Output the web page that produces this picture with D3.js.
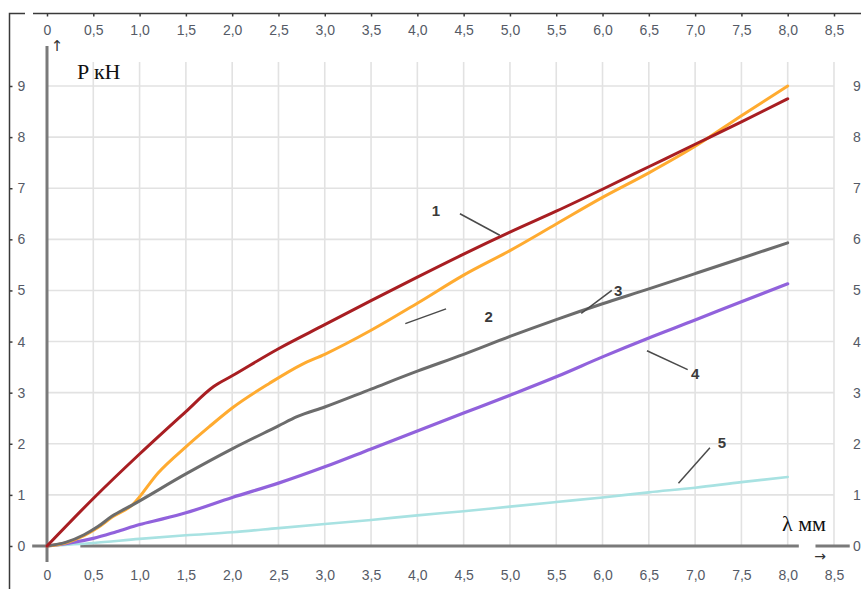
<!DOCTYPE html>
<html>
<head>
<meta charset="utf-8">
<script src="https://cdn.jsdelivr.net/npm/d3@7"></script>
<style>
  html, body { margin: 0; padding: 0; background: #fff; }
  svg { display: block; }
  .tick text { fill: #555a66; font-family: "Liberation Sans", Arial, sans-serif; font-size: 14px; }
</style>
</head>
<body>
<svg id="chart" width="861" height="589"></svg>
<script>
// Load P (kN) against elongation λ (mm) for five specimens
const xTicks = [0, 0.5, 1, 1.5, 2, 2.5, 3, 3.5, 4, 4.5, 5, 5.5, 6, 6.5, 7, 7.5, 8, 8.5];
const yTicks = [0, 1, 2, 3, 4, 5, 6, 7, 8, 9];

const lambda1 = [0, 0.5, 1.0, 1.5, 1.8, 2.0, 2.5, 3.0, 3.5, 4.0, 4.5, 5.0, 5.5, 6.0, 6.5, 7.0, 7.5, 8.0];
const load1   = [0, 0.93, 1.8, 2.63, 3.12, 3.33, 3.86, 4.33, 4.8, 5.26, 5.71, 6.14, 6.55, 6.98, 7.42, 7.86, 8.3, 8.75];

const lambda2 = [0, 0.2, 0.4, 0.55, 0.7, 0.92, 1.2, 1.5, 1.75, 2.0, 2.4, 2.75, 3.0, 3.5, 4.0, 4.5, 5.0, 5.5, 6.0, 6.5, 7.0, 7.5, 8.0];
const load2   = [0, 0.06, 0.2, 0.36, 0.56, 0.8, 1.43, 1.94, 2.33, 2.7, 3.18, 3.55, 3.75, 4.22, 4.75, 5.3, 5.78, 6.3, 6.82, 7.3, 7.82, 8.42, 9.0];

const lambda3 = [0, 0.2, 0.4, 0.55, 0.7, 0.92, 1.5, 2.0, 2.5, 2.7, 3.0, 3.5, 4.0, 4.5, 5.0, 5.5, 6.0, 6.5, 7.0, 7.5, 8.0];
const load3   = [0, 0.07, 0.22, 0.38, 0.58, 0.8, 1.41, 1.9, 2.35, 2.53, 2.72, 3.07, 3.42, 3.75, 4.1, 4.43, 4.74, 5.03, 5.33, 5.63, 5.93];

const lambda4 = [0, 0.25, 0.5, 0.75, 1.0, 1.25, 1.5, 2.0, 2.5, 3.0, 3.5, 4.0, 4.5, 5.0, 5.5, 6.0, 6.5, 7.0, 7.5, 8.0];
const load4   = [0, 0.06, 0.15, 0.28, 0.42, 0.53, 0.65, 0.95, 1.23, 1.55, 1.9, 2.25, 2.6, 2.95, 3.31, 3.7, 4.07, 4.42, 4.78, 5.13];

const lambda5 = [0, 0.5, 1.0, 1.5, 2.0, 2.5, 3.0, 3.5, 4.0, 4.5, 5.0, 5.5, 6.0, 6.5, 7.0, 7.5, 8.0];
const load5   = [0, 0.06, 0.14, 0.21, 0.27, 0.35, 0.43, 0.51, 0.6, 0.68, 0.77, 0.86, 0.95, 1.05, 1.14, 1.25, 1.35];

const curveNames = ["1", "2", "3", "4", "5"];
const curveColors = ["#a81e22", "#ffab30", "#6c6c6c", "#9162dc", "#a8e2e2"];

const svg = d3.select("#chart");
const x = d3.scaleLinear().domain([0, 8.5]).range([47, 834]);
const y = d3.scaleLinear().domain([0, 9]).range([546, 86]);

const fmt = d => d === 0 ? "0" : d3.format(".1f")(d).replace(".", ",");

// grid
const grid = svg.append("g").attr("stroke", "#e2e2e2").attr("stroke-width", 1.6);
grid.selectAll(".gx").data(xTicks.filter(d => d > 0)).join("line")
  .attr("x1", d => x(d)).attr("x2", d => x(d))
  .attr("y1", 62).attr("y2", y(0));
grid.selectAll(".gy").data(yTicks.filter(d => d > 0)).join("line")
  .attr("x1", x(0)).attr("x2", x(8.5))
  .attr("y1", d => y(d)).attr("y2", d => y(d));

// outer frame: top scale and left scale
svg.append("path").attr("d", "M9.5,589 V13.5 H25").attr("fill", "none").attr("stroke", "#3a3a3a").attr("stroke-width", 1.5);
svg.append("line").attr("x1", 33).attr("x2", 861).attr("y1", 13.5).attr("y2", 13.5).attr("stroke", "#3a3a3a").attr("stroke-width", 1.5);

const topAxis = svg.append("g").attr("transform", "translate(0,13.5)")
  .call(d3.axisBottom(x).tickValues(xTicks).tickFormat(fmt).tickSize(3).tickPadding(9));
topAxis.select(".domain").remove();
topAxis.selectAll(".tick line").attr("stroke", "#3a3a3a").attr("stroke-width", 1.5);

const bottomAxis = svg.append("g").attr("transform", `translate(0,${y(0)})`)
  .call(d3.axisBottom(x).tickValues(xTicks).tickFormat(fmt).tickSize(0).tickPadding(24));
bottomAxis.select(".domain").remove();

const leftAxis = svg.append("g").attr("transform", "translate(9.5,0)")
  .call(d3.axisRight(y).tickValues(yTicks).tickFormat(d3.format("d")).tickSize(3).tickPadding(5));
leftAxis.select(".domain").remove();
leftAxis.selectAll(".tick line").attr("stroke", "#3a3a3a").attr("stroke-width", 1.5);

const rightAxis = svg.append("g").attr("transform", "translate(849,0)")
  .call(d3.axisRight(y).tickValues(yTicks).tickFormat(d3.format("d")).tickSize(0).tickPadding(4));
rightAxis.select(".domain").remove();

// data axes
const axisColor = "#7a7a7a";
svg.append("line").attr("x1", x(0)).attr("x2", x(0)).attr("y1", 46).attr("y2", 562)
  .attr("stroke", axisColor).attr("stroke-width", 3);
const xAxisSegments = [[-0.16, 0.02], [0.36, 8.12], [8.3, 8.67]];
svg.append("g").selectAll("line").data(xAxisSegments).join("line")
  .attr("x1", d => x(d[0])).attr("x2", d => x(d[1]))
  .attr("y1", y(0)).attr("y2", y(0))
  .attr("stroke", axisColor).attr("stroke-width", 3);

// curves
const series = [
  { xs: lambda5, ys: load5, i: 4, w: 2.6 },
  { xs: lambda4, ys: load4, i: 3, w: 3.2 },
  { xs: lambda2, ys: load2, i: 1, w: 3 },
  { xs: lambda3, ys: load3, i: 2, w: 3 },
  { xs: lambda1, ys: load1, i: 0, w: 3 }
];
const line = d3.line().x(d => x(d[0])).y(d => y(d[1])).curve(d3.curveMonotoneX);
svg.append("g").selectAll("path").data(series).join("path")
  .attr("d", s => line(s.xs.map((v, k) => [v, s.ys[k]])))
  .attr("fill", "none")
  .attr("stroke", s => curveColors[s.i])
  .attr("stroke-width", s => s.w)
  .attr("stroke-linejoin", "round")
  .attr("stroke-linecap", "round");

// curve numbers with leader lines (label position and leader end, in data units)
const labelAt = [[4.2, 6.57], [4.77, 4.5], [6.17, 5.0], [7.0, 3.37], [7.29, 2.02]];
const leaderFrom = [[4.46, 6.5], [3.87, 4.35], [5.77, 4.55], [6.48, 3.82], [6.82, 1.23]];
const leaderTo = [[4.89, 6.08], [4.31, 4.64], [6.1, 5.0], [6.92, 3.45], [7.16, 1.92]];
const ann = svg.append("g");
ann.selectAll("line").data(curveNames).join("line")
  .attr("x1", (d, k) => x(leaderFrom[k][0])).attr("y1", (d, k) => y(leaderFrom[k][1]))
  .attr("x2", (d, k) => x(leaderTo[k][0])).attr("y2", (d, k) => y(leaderTo[k][1]))
  .attr("stroke", "#4a4a4a").attr("stroke-width", 1.5);
ann.selectAll("text").data(curveNames).join("text")
  .attr("x", (d, k) => x(labelAt[k][0])).attr("y", (d, k) => y(labelAt[k][1]))
  .attr("text-anchor", "middle").attr("dominant-baseline", "central")
  .attr("font-family", "'Liberation Sans', Arial, sans-serif")
  .attr("font-weight", "bold").attr("font-size", 15).attr("fill", "#3a3a3a")
  .text(d => d);

// axis titles and arrows
const serif = "'Liberation Serif', 'Times New Roman', serif";
svg.append("text").attr("x", 77).attr("y", 79).attr("font-family", serif).attr("font-size", 22)
  .attr("fill", "#111").text("P кН");
svg.append("text").attr("x", 782).attr("y", 531).attr("font-family", serif).attr("font-size", 22)
  .attr("fill", "#111").text("λ мм");
svg.append("text").attr("x", 57).attr("y", 51).attr("text-anchor", "middle")
  .attr("font-family", "'DejaVu Sans', sans-serif").attr("font-size", 15).attr("fill", "#333").text("↑");
svg.append("text").attr("x", 820).attr("y", 561).attr("text-anchor", "middle")
  .attr("font-family", "'DejaVu Sans', sans-serif").attr("font-size", 14).attr("fill", "#333").text("→");
</script>
</body>
</html>
